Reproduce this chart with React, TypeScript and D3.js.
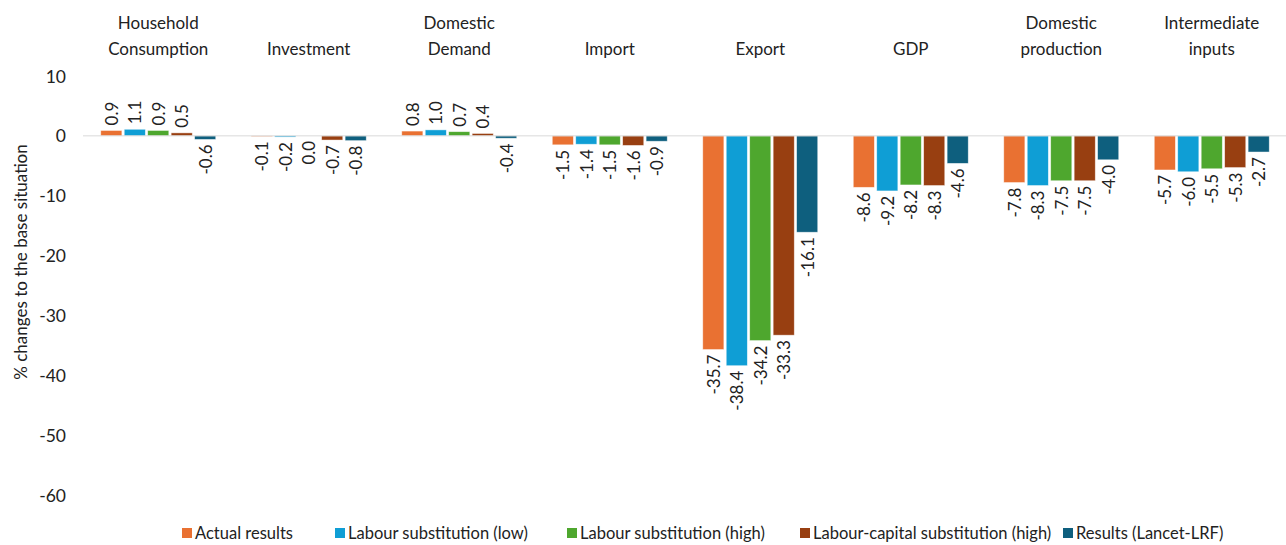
import React from "react";
import * as d3 from "d3";

const categories = [
  ["Household", "Consumption"],
  ["Investment"],
  ["Domestic", "Demand"],
  ["Import"],
  ["Export"],
  ["GDP"],
  ["Domestic", "production"],
  ["Intermediate", "inputs"],
];

const seriesNames = [
  "Actual results",
  "Labour substitution (low)",
  "Labour substitution (high)",
  "Labour-capital substitution (high)",
  "Results (Lancet-LRF)",
];

const seriesColors = ["#E97132", "#0F9ED5", "#4EA72E", "#983F11", "#0E5F7E"];

const actualResults = [0.9, -0.1, 0.8, -1.5, -35.7, -8.6, -7.8, -5.7];
const labourLow = [1.1, -0.2, 1.0, -1.4, -38.4, -9.2, -8.3, -6.0];
const labourHigh = [0.9, -0.0, 0.7, -1.5, -34.2, -8.2, -7.5, -5.5];
const labourCapitalHigh = [0.5, -0.7, 0.4, -1.6, -33.3, -8.3, -7.5, -5.3];
const lancetLRF = [-0.6, -0.8, -0.4, -0.9, -16.1, -4.6, -4.0, -2.7];

const seriesValues = [actualResults, labourLow, labourHigh, labourCapitalHigh, lancetLRF];

const yTicks = [10, 0, -10, -20, -30, -40, -50, -60];

const W = 1286;
const H = 545;
const FONT = "Lato, 'Open Sans', sans-serif";

export default function App() {
  const left = 83;
  const right = 1287;
  const top = 76;
  const bottom = 495;

  const x0 = d3
    .scaleBand<number>()
    .domain(d3.range(categories.length))
    .range([left, right])
    .paddingInner(0.236)
    .paddingOuter(0.118);

  const x1 = d3
    .scaleBand<number>()
    .domain(d3.range(seriesNames.length))
    .range([0, x0.bandwidth()])
    .paddingInner(0.1)
    .paddingOuter(0);

  const y = d3.scaleLinear().domain([-60, 10]).range([bottom, top]);

  const legendX = [182, 335, 567, 800, 1063];

  return (
    <div style={{ position: "absolute", left: 0, top: 0 }}>
      <svg width={W} height={H} style={{ display: "block", fontFamily: FONT }}>
        <rect width={W} height={H} fill="#fff" />

        {/* y axis tick labels */}
        {yTicks.map((t) => (
          <text
            key={t}
            x={66}
            y={y(t)}
            textAnchor="end"
            dominantBaseline="central"
            fontSize={17.5}
            fill="#222"
          >
            {t}
          </text>
        ))}

        <text
          transform={`translate(20,${262}) rotate(-90)`}
          textAnchor="middle"
          dominantBaseline="central"
          fontSize={17}
          fill="#222"
        >
          % changes to the base situation
        </text>

        {/* category labels along the top */}
        {categories.map((lines, i) => {
          const cx = x0(i)! + x0.bandwidth() / 2;
          return (
            <text key={i} textAnchor="middle" fontSize={17} fill="#222">
              {lines.map((ln, j) => (
                <tspan key={j} x={cx} y={lines.length === 2 ? 29 + j * 26 : 55}>
                  {ln}
                </tspan>
              ))}
            </text>
          );
        })}

        {/* bars */}
        {seriesValues.map((vals, s) =>
          vals.map((v, i) => {
            const bx = x0(i)! + x1(s)!;
            const y0 = y(Math.max(0, v));
            const h = Math.abs(y(v) - y(0));
            return (
              <rect
                key={`${s}-${i}`}
                x={bx}
                y={y0}
                width={x1.bandwidth()}
                height={h}
                fill={seriesColors[s]}
                stroke="#fff"
                strokeOpacity={0.6}
                strokeWidth={0.75}
              />
            );
          })
        )}

        {/* zero line */}
        <line x1={left} x2={right} y1={y(0)} y2={y(0)} stroke="#d9d9d9" strokeWidth={1} />

        {/* value labels */}
        {seriesValues.map((vals, s) =>
          vals.map((v, i) => {
            const cx = x0(i)! + x1(s)! + x1.bandwidth() / 2;
            const pos = v > 0;
            const ly = pos ? y(v) - 5 : y(v) + 5;
            return (
              <text
                key={`l-${s}-${i}`}
                transform={`translate(${cx},${ly}) rotate(-90)`}
                textAnchor={pos ? "start" : "end"}
                dominantBaseline="central"
                fontSize={17}
                fill="#222"
              >
                {Math.abs(v) < 0.05 ? "0.0" : v.toFixed(1)}
              </text>
            );
          })
        )}

        {/* legend */}
        {seriesNames.map((name, s) => (
          <g key={name} transform={`translate(${legendX[s]},533)`}>
            <rect x={0} y={-5} width={10} height={10} fill={seriesColors[s]} />
            <text x={13} y={0} dominantBaseline="central" fontSize={16.5} fill="#222">
              {name}
            </text>
          </g>
        ))}
      </svg>
    </div>
  );
}
